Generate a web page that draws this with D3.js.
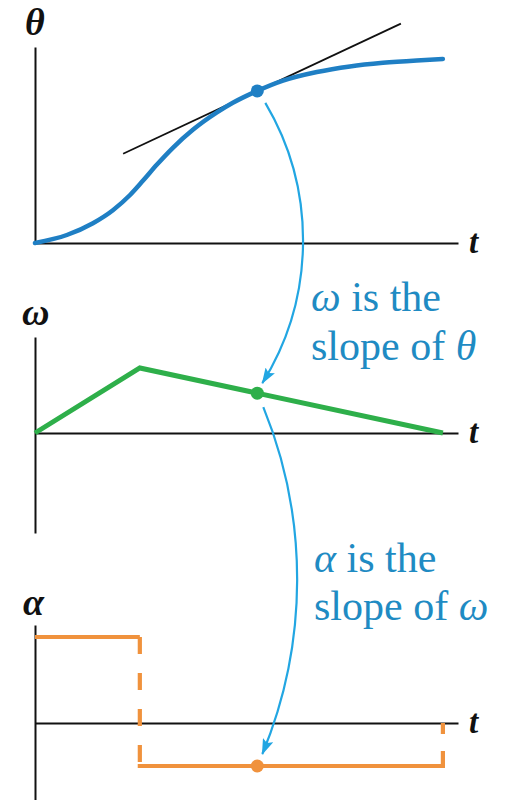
<!DOCTYPE html>
<html>
<head>
<meta charset="utf-8">
<script src="https://cdn.jsdelivr.net/npm/d3@7"></script>
<style>
  html, body { margin: 0; padding: 0; background: #fff; }
  svg { display: block; }
  .serif { font-family: "Liberation Serif", "Times New Roman", "DejaVu Serif", serif; }
</style>
</head>
<body>
<svg id="chart" width="506" height="800"></svg>
<script>
// ---- data (time in arbitrary units 0..10) ----
const thetaT = [0, 0.78, 1.42, 1.91, 2.33, 2.65, 2.99, 3.38, 3.87, 4.46, 4.85, 5.42, 6.08, 6.91, 7.72, 8.53, 9.36, 10];
const thetaV = [0, 0.4, 0.99, 1.64, 2.4, 3.12, 3.92, 4.76, 5.66, 6.53, 7.01, 7.58, 8.12, 8.55, 8.83, 9.01, 9.13, 9.2];
const omegaT = [0, 2.57, 10];
const omegaV = [0, 6.5, 0];
const alphaT = [0, 2.57, 10];      // step edges
const alphaV = [8.6, -4.3];         // constant value on each interval
const markT = 5.45;                 // instant highlighted in all three graphs
const tangentT = [2.16, 8.97];      // extent of the tangent line
const tangentSlope = 0.955;         // dθ/dt at markT (graph units)
const axisLabels = ["θ", "ω", "α"];
const noteLines1 = [["ω", " is the"], ["slope of ", "θ"]];
const noteLines2 = [["α", " is the"], ["slope of ", "ω"]];

// ---- styles ----
const C = { theta: "#1f7fc4", omega: "#2eaf4a", alpha: "#f0923d", arrow: "#22a6e2", note: "#1f8bc3" };

const svg = d3.select("#chart");

// ---- scales ----
const x = d3.scaleLinear().domain([0, 10.37]).range([35, 458]);
const yTheta = d3.scaleLinear().domain([0, 9.8]).range([243, 47]);
const yOmega = d3.scaleLinear().domain([-10, 9.6]).range([533, 337]);
const yAlpha = d3.scaleLinear().domain([-8, 9.8]).range([803, 625]);

// ---- axes ----
function drawAxes(y) {
  const gx = svg.append("g").attr("transform", `translate(0,${y(0)})`)
    .call(d3.axisBottom(x).tickValues([]).tickSizeOuter(0));
  const gy = svg.append("g").attr("transform", `translate(${x(0)},0)`)
    .call(d3.axisLeft(y).tickValues([]).tickSizeOuter(0));
  [gx, gy].forEach(g => g.select(".domain").attr("stroke", "#111").attr("stroke-width", 2));
  svg.append("text").attr("class", "serif").attr("x", x.range()[1] + 11).attr("y", y(0) + 10)
    .style("font-style", "italic").style("font-weight", "bold")
    .style("font-size", "33px").attr("fill", "#111").text("t");
}
drawAxes(yTheta);
drawAxes(yOmega);
drawAxes(yAlpha);

// axis name labels
const labelPos = [[25, 35], [22, 325], [23, 615]];
axisLabels.forEach((s, i) => {
  svg.append("text").attr("class", "serif").attr("x", labelPos[i][0]).attr("y", labelPos[i][1])
    .style("font-style", "italic").style("font-weight", "bold")
    .style("font-size", "38px").attr("fill", "#111").text(s);
});

// ---- θ curve + tangent ----
const thetaData = thetaT.map((t, i) => [t, thetaV[i]]);
const thetaAt = d3.scaleLinear().domain(thetaT).range(thetaV);
const markTheta = thetaAt(markT);
svg.append("line")
  .attr("x1", x(tangentT[0])).attr("y1", yTheta(markTheta + tangentSlope * (tangentT[0] - markT)))
  .attr("x2", x(tangentT[1])).attr("y2", yTheta(markTheta + tangentSlope * (tangentT[1] - markT)))
  .attr("stroke", "#111").attr("stroke-width", 1.8);
svg.append("path").datum(thetaData)
  .attr("d", d3.line().x(d => x(d[0])).y(d => yTheta(d[1])).curve(d3.curveMonotoneX))
  .attr("fill", "none").attr("stroke", C.theta).attr("stroke-width", 4.5).attr("stroke-linecap", "round");
svg.append("circle").attr("cx", x(markT)).attr("cy", yTheta(markTheta)).attr("r", 6.5).attr("fill", C.theta);

// ---- ω graph ----
const omegaData = omegaT.map((t, i) => [t, omegaV[i]]);
const omegaAt = d3.scaleLinear().domain(omegaT).range(omegaV);
const markOmega = omegaAt(markT);
svg.append("path").datum(omegaData)
  .attr("d", d3.line().x(d => x(d[0])).y(d => yOmega(d[1])))
  .attr("fill", "none").attr("stroke", C.omega).attr("stroke-width", 5).attr("stroke-linejoin", "miter");
svg.append("circle").attr("cx", x(markT)).attr("cy", yOmega(markOmega)).attr("r", 6.5).attr("fill", C.omega);

// ---- α graph ----
function seg(p, dash, cap) {
  const s = svg.append("path").attr("d", d3.line()(p))
    .attr("fill", "none").attr("stroke", C.alpha).attr("stroke-width", 4.2)
    .attr("stroke-linecap", cap || "butt");
  if (dash) s.attr("stroke-dasharray", dash);
}
for (let i = 0; i < alphaV.length; i++) {
  seg([[x(alphaT[i]), yAlpha(alphaV[i])], [x(alphaT[i + 1]), yAlpha(alphaV[i])]], null, i === 0 ? "butt" : "square");
}
// dashed jumps
seg([[x(alphaT[1]), yAlpha(alphaV[0])], [x(alphaT[1]), yAlpha(alphaV[1])]], "17,19");
seg([[x(alphaT[2]), yAlpha(alphaV[1])], [x(alphaT[2]), yAlpha(0)]], "15,17");
svg.append("circle").attr("cx", x(markT)).attr("cy", yAlpha(alphaV[1])).attr("r", 6.5).attr("fill", C.alpha);

// ---- curved arrows ----
const defs = svg.append("defs");
defs.append("marker").attr("id", "ah").attr("viewBox", "0 0 16 11")
  .attr("refX", 15).attr("refY", 5.5).attr("markerWidth", 16).attr("markerHeight", 11)
  .attr("markerUnits", "userSpaceOnUse").attr("orient", "auto")
  .append("path").attr("d", "M0,0 L16,5.5 L0,11 L3,5.5 Z").attr("fill", C.arrow);

function arcArrow(x1, y1, x2, y2, r) {
  svg.append("path")
    .attr("d", `M${x1},${y1} A${r},${r} 0 0 1 ${x2},${y2}`)
    .attr("fill", "none").attr("stroke", C.arrow).attr("stroke-width", 2.2)
    .attr("marker-end", "url(#ah)");
}
arcArrow(x(markT) + 8, yTheta(markTheta) + 12, x(markT) + 5, yOmega(markOmega) - 10, 270);
arcArrow(x(markT) + 6, yOmega(markOmega) + 14, x(markT) + 5, yAlpha(alphaV[1]) - 12, 455);

// ---- notes ----
function note(lines, x0, baselines) {
  lines.forEach((parts, i) => {
    const t = svg.append("text").attr("class", "serif").attr("x", x0).attr("y", baselines[i])
      .style("font-size", "42px").attr("fill", C.note);
    parts.forEach(p => {
      const greek = /[θωα]/.test(p);
      t.append("tspan").style("font-style", greek ? "italic" : "normal").text(p);
    });
  });
}
note(noteLines1, 311, [311, 360]);
note(noteLines2, 314, [572, 620]);
</script>
</body>
</html>
